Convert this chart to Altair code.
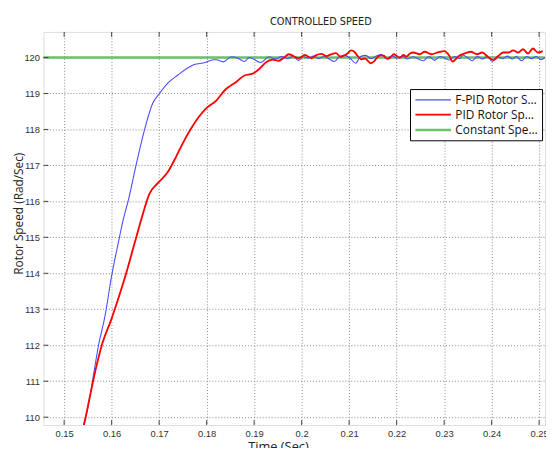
import altair as alt
import pandas as pd

# ---- data ----
fpid_t = [0.1535, 0.15414, 0.15553, 0.15586, 0.15725, 0.15863, 0.16000, 0.16139, 0.16242, 0.16346,
          0.16518, 0.16692, 0.16863, 0.17002, 0.17209, 0.17381, 0.17727, 0.17967, 0.18141, 0.18209,
          0.18348, 0.18520, 0.18658, 0.18795, 0.18898, 0.19141, 0.19313, 0.1945, 0.1958, 0.1970,
          0.1982, 0.1993, 0.2003, 0.2014, 0.2025, 0.2036, 0.2047, 0.2058, 0.2069, 0.2080,
          0.2091, 0.2102, 0.2114, 0.2124, 0.2135, 0.2146, 0.2157, 0.2168, 0.2179, 0.2190,
          0.2201, 0.2212, 0.2223, 0.2235, 0.2246, 0.2256, 0.2268, 0.2280, 0.2291, 0.2302,
          0.2311, 0.2322, 0.2333, 0.2339, 0.2349, 0.2359, 0.2370, 0.2381, 0.2391, 0.2401,
          0.2412, 0.2423, 0.2433, 0.2444, 0.2452, 0.2463, 0.2474, 0.2484, 0.2494, 0.2504, 0.2512]
fpid_v = [109.50, 109.78, 110.64, 110.91, 112.00, 112.83, 113.93, 114.84, 115.48, 116.00,
          117.03, 117.99, 118.72, 118.99, 119.32, 119.50, 119.80, 119.86, 119.94, 119.94,
          119.88, 120.02, 119.98, 119.89, 120.00, 119.86, 120.02, 119.96, 120.03, 119.97,
          120.03, 119.92, 120.02, 119.98, 120.04, 119.97, 120.03, 119.96, 119.89, 120.03,
          120.06, 119.98, 119.84, 120.03, 120.06, 119.97, 120.04, 120.08, 119.97, 120.05,
          119.98, 120.04, 119.96, 120.02, 119.96, 119.91, 120.03, 119.92, 120.03, 119.98,
          119.93, 120.03, 119.97, 120.07, 120.00, 119.91, 120.03, 119.96, 120.03, 119.89,
          120.03, 119.97, 120.04, 119.96, 120.03, 119.91, 120.03, 119.97, 120.03, 119.94, 120.00]

pid_t = [0.1535, 0.15414, 0.15553, 0.15656, 0.15793, 0.16000, 0.16139, 0.16311, 0.16484, 0.16621,
         0.16795, 0.16967, 0.17174, 0.17346, 0.17484, 0.17656, 0.17830, 0.18002, 0.18209, 0.18381,
         0.18623, 0.18795, 0.18969, 0.19106, 0.19244, 0.19383, 0.1952, 0.1963, 0.1973, 0.1983,
         0.1993, 0.2007, 0.2021, 0.2030, 0.2042, 0.2052, 0.2062, 0.2072, 0.2082, 0.2090,
         0.2097, 0.2104, 0.2111, 0.2118, 0.2126, 0.2134, 0.2140, 0.2145, 0.2153, 0.2159,
         0.2166, 0.2173, 0.2180, 0.2187, 0.2194, 0.2200, 0.2207, 0.2214, 0.2221, 0.2228,
         0.2235, 0.22488, 0.22592, 0.2273, 0.22868, 0.23006, 0.23109, 0.23178, 0.23316, 0.23454,
         0.23558, 0.23696, 0.23799, 0.23937, 0.24041, 0.24144, 0.24248, 0.24351, 0.24455, 0.24558,
         0.24662, 0.24765, 0.24869, 0.24972, 0.25076]
pid_v = [109.50, 109.78, 110.64, 111.28, 112.00, 112.74, 113.29, 114.02, 114.84, 115.48,
         116.21, 116.50, 116.80, 117.21, 117.58, 117.99, 118.34, 118.60, 118.81, 119.09,
         119.32, 119.50, 119.55, 119.68, 119.86, 119.94, 119.91, 120.00, 120.09, 120.04,
         119.98, 120.07, 119.98, 120.06, 120.10, 120.04, 120.09, 120.12, 120.02, 120.06,
         120.12, 120.20, 120.16, 120.04, 119.95, 119.97, 119.90, 119.84, 119.90, 120.00,
         120.06, 120.05, 119.96, 120.00, 120.09, 120.05, 119.99, 120.07, 120.03, 120.11,
         120.14, 120.09, 120.16, 120.09, 120.14, 120.18, 120.05, 119.89, 120.05, 120.12,
         120.16, 120.09, 120.14, 120.00, 119.93, 120.05, 120.14, 120.14, 120.20, 120.14,
         120.23, 120.11, 120.25, 120.14, 120.18]

const_t = [0.1452, 0.2512]
const_v = [120.0, 120.0]

series_names = ["F-PID Rotor Speed", "PID Rotor Speed", "Constant Speed"]
series_colors = ["#4b4bff", "#ff0000", "#6cbf6c"]
series_widths = [1.1, 2.6, 1.5]

x_ticks = [0.15, 0.16, 0.17, 0.18, 0.19, 0.20, 0.21, 0.22, 0.23, 0.24, 0.25]
y_ticks = [110, 111, 112, 113, 114, 115, 116, 117, 118, 119, 120]

x_domain = [0.14565, 0.25124]
y_domain = [109.78, 120.712]

# ---- build tables ----
df = pd.concat([
    pd.DataFrame({"t": fpid_t, "v": fpid_v, "series": series_names[0]}),
    pd.DataFrame({"t": pid_t, "v": pid_v, "series": series_names[1]}),
    pd.DataFrame({"t": const_t, "v": const_v, "series": series_names[2]}),
])
xt = pd.DataFrame({"t": x_ticks})
yt = pd.DataFrame({"v": y_ticks})

W, H = 509, 399
FONT = "Liberation Sans"
DOCFONT = "Open Sans"

xscale = alt.Scale(domain=x_domain, nice=False, zero=False)
yscale = alt.Scale(domain=y_domain, nice=False, zero=False)

legend_kw = dict(title=None, orient="none", legendX=372, legendY=58,
                 symbolType="M-1,0H5", symbolSize=144,
                 labelFont=DOCFONT, labelFontSize=12, labelColor="#111",
                 labelLimit=84, labelOffset=27, rowPadding=2, padding=4,
                 strokeColor="#000", fillColor="white", cornerRadius=0)
color = alt.Color("series:N", scale=alt.Scale(domain=series_names, range=series_colors),
                  legend=alt.Legend(**legend_kw))
swidth = alt.StrokeWidth("series:N", scale=alt.Scale(domain=series_names, range=series_widths),
                         legend=alt.Legend(**legend_kw))

xaxis = alt.Axis(values=x_ticks, format="~g", title="Time (Sec)", grid=True, ticks=False, domain=False,
                 gridDash=[1, 2], gridColor="#888", gridWidth=1, labelFont=FONT, labelFontSize=9.5,
                 labelColor="#333", labelPadding=4, labelOverlap=False,
                 titleFont=DOCFONT, titleFontSize=13, titleFontWeight="normal", titleColor="#222",
                 titleX=238, titleY=16, titleBaseline="top")
yaxis = alt.Axis(values=y_ticks, format="d", title="Rotor Speed (Rad/Sec)", grid=True, ticks=False,
                 domain=False, gridDash=[1, 2], gridColor="#888", gridWidth=1, labelFont=FONT,
                 labelFontSize=9.5, labelColor="#333", labelPadding=4, labelOverlap=False,
                 titleFont=DOCFONT, titleFontSize=12, titleFontWeight="normal", titleColor="#222",
                 titleX=-21, titleY=184, titleBaseline="alphabetic")

def line_layer(name):
    return alt.Chart(df).transform_filter(alt.datum.series == name).mark_line(
        clip=True, interpolate="monotone").encode(
        x=alt.X("t:Q", scale=xscale, axis=xaxis),
        y=alt.Y("v:Q", scale=yscale, axis=yaxis),
        color=color, strokeWidth=swidth,
        detail="series:N")

tick_col = "#444"
bottom_ticks = alt.Chart(xt).mark_rule(color=tick_col).encode(
    x=alt.X("t:Q", scale=xscale, axis=xaxis), y=alt.value(H), y2=alt.value(H - 5))
top_ticks = alt.Chart(xt).mark_rule(color=tick_col).encode(
    x=alt.X("t:Q", scale=xscale, axis=xaxis), y=alt.value(0), y2=alt.value(5))
left_ticks = alt.Chart(yt).mark_rule(color=tick_col).encode(
    y=alt.Y("v:Q", scale=yscale, axis=yaxis), x=alt.value(0), x2=alt.value(5))

chart = alt.layer(
    line_layer(series_names[2]),
    line_layer(series_names[0]),
    line_layer(series_names[1]),
    bottom_ticks, top_ticks, left_ticks,
).properties(
    width=W, height=H,
    title=alt.TitleParams("CONTROLLED SPEED",
                          font="Liberation Sans Narrow, DejaVu Sans Condensed, sans-serif",
                          fontSize=11, fontWeight="normal", color="#222", offset=5,
                          anchor="middle", dx=27),
    padding={"left": 36, "top": 21, "right": 1, "bottom": 20},
    autosize=alt.AutoSizeParams(type="none"),
).configure_view(stroke="#555", strokeWidth=1.2).configure(background="white")

chart.save("out.html", embed_options={"renderer": "svg", "actions": False})
